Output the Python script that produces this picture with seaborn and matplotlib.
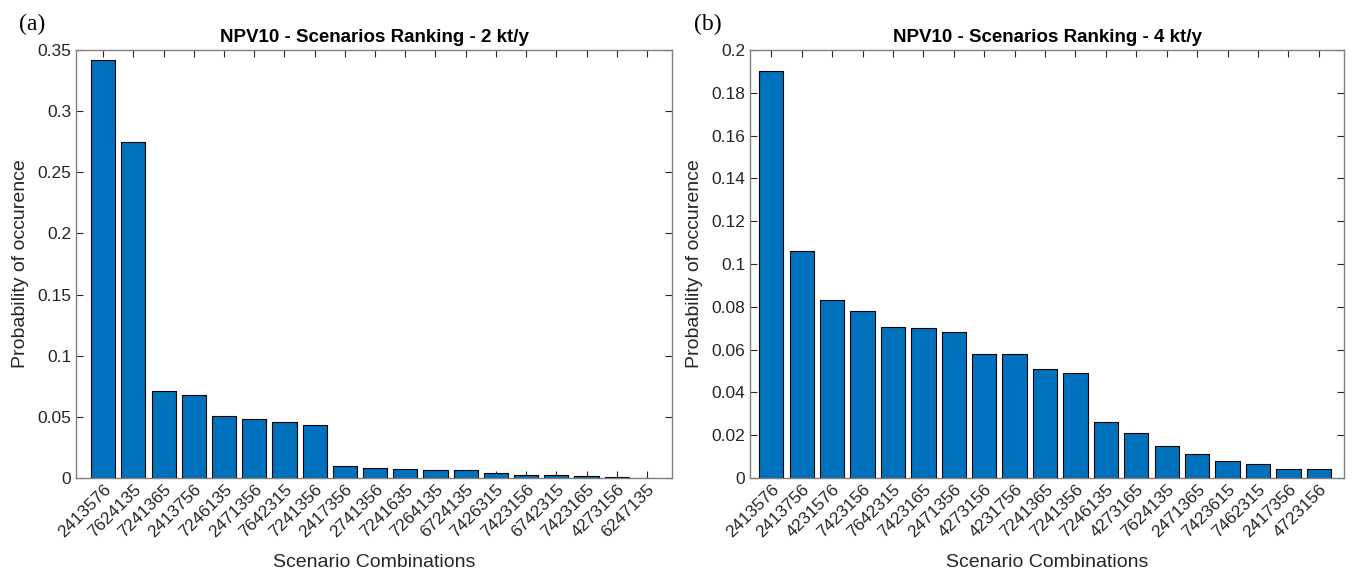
import matplotlib
matplotlib.use("Agg")
import matplotlib.pyplot as plt
import seaborn as sns
import pandas as pd

# Scenario rankings, 2 kt/y
labels_2kt = ['2413576', '7624135', '7241365', '2413756', '7246135', '2471356', '7642315',
              '7241356', '2417356', '2741356', '7241635', '7264135', '6724135', '7426315',
              '7423156', '6742315', '7423165', '4273156', '6247135']
prob_2kt = [0.342, 0.275, 0.071, 0.068, 0.051, 0.048, 0.0455, 0.043, 0.0098, 0.0083,
            0.0075, 0.0068, 0.0067, 0.0038, 0.0025, 0.0025, 0.0015, 0.0008, 0.0001]

# Scenario rankings, 4 kt/y
labels_4kt = ['2413576', '2413756', '4231576', '7423156', '7642315', '7423165', '2471356',
              '4273156', '4231756', '7241365', '7241356', '7246135', '4273165', '7624135',
              '2471365', '7423615', '7462315', '2417356', '4723156']
prob_4kt = [0.190, 0.106, 0.083, 0.078, 0.0705, 0.070, 0.068, 0.058, 0.058, 0.051,
            0.049, 0.026, 0.021, 0.015, 0.011, 0.008, 0.0065, 0.0043, 0.0043]

sns.set_theme(style="white")
plt.rcParams['font.family'] = ['Liberation Sans', 'DejaVu Sans']

W, H = 1352, 581
fig = plt.figure(figsize=(W / 100, H / 100), dpi=100)
ax1 = fig.add_axes([76 / W, 103 / H, 596 / W, 428 / H])
ax2 = fig.add_axes([750 / W, 103 / H, 594 / W, 428 / H])

blue = '#0072BD'
grey = '#808080'
txt = '#262626'


def draw(ax, labels, values, ymax, yticks, ylabels, title, tag, xlim):
    df = pd.DataFrame({'scenario': labels, 'prob': values})
    sns.barplot(data=df, x='scenario', y='prob', color=blue, saturation=1,
                edgecolor='black', linewidth=0.8, width=0.8, ax=ax)
    ax.set_xlim(*xlim)
    ax.set_ylim(0, ymax)
    ax.set_yticks(yticks)
    ax.set_yticklabels(ylabels)
    ax.set_xticks(range(len(labels)))
    ax.set_xticklabels(labels, rotation=45, ha='right', rotation_mode='anchor')
    ax.tick_params(axis='both', direction='in', length=5, width=0.8, color=txt,
                   labelsize=12.5, labelcolor=txt, top=True, right=True,
                   bottom=True, left=True)
    ax.tick_params(axis='x', pad=3)
    for s in ax.spines.values():
        s.set_color(grey)
        s.set_linewidth(1.0)
        s.set_visible(True)
    ax.set_xlabel('Scenario Combinations', fontsize=14, color=txt, labelpad=10)
    ax.set_ylabel('Probability of occurence', fontsize=14, color=txt, labelpad=6)
    ax.set_title(title, fontsize=13.5, fontweight='bold', color='black', pad=6)
    ax.text(-0.095, 1.035, tag, transform=ax.transAxes, fontsize=17,
            family=['Liberation Serif', 'DejaVu Serif'], color='black',
            ha='left', va='bottom')


draw(ax1, labels_2kt, prob_2kt, 0.35,
     [0, 0.05, 0.1, 0.15, 0.2, 0.25, 0.3, 0.35],
     ['0', '0.05', '0.1', '0.15', '0.2', '0.25', '0.3', '0.35'],
     'NPV10 - Scenarios Ranking - 2 kt/y', '(a)', (-0.9, 18.83))
draw(ax2, labels_4kt, prob_4kt, 0.2,
     [0, 0.02, 0.04, 0.06, 0.08, 0.1, 0.12, 0.14, 0.16, 0.18, 0.2],
     ['0', '0.02', '0.04', '0.06', '0.08', '0.1', '0.12', '0.14', '0.16', '0.18', '0.2'],
     'NPV10 - Scenarios Ranking - 4 kt/y', '(b)', (-0.7, 18.83))

fig.savefig('out.png', dpi=100)
